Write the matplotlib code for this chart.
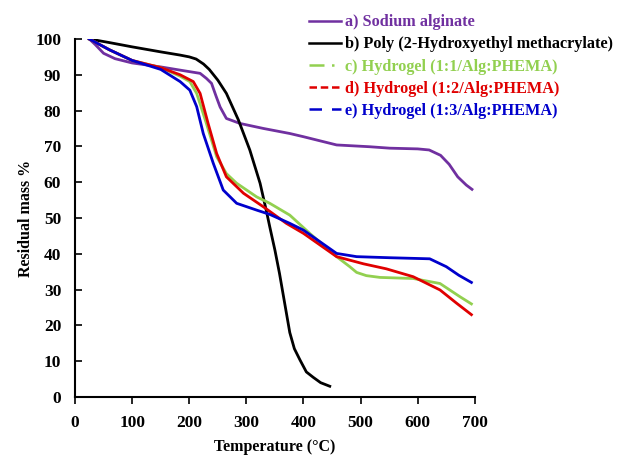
import matplotlib
matplotlib.use('Agg')
import matplotlib.pyplot as plt
from matplotlib.lines import Line2D

plt.rcParams['font.family'] = ['Liberation Serif', 'DejaVu Serif']
plt.rcParams['font.weight'] = 'bold'

# TGA curves
alg_x = [25, 35, 50, 70, 100, 150, 184, 219, 230, 239, 247, 254, 265, 289, 330, 376, 400, 458, 516, 551, 600, 620, 640, 655, 670, 685, 695]
alg_y = [100, 98.5, 96, 94.5, 93.3, 92.2, 91.3, 90.4, 89, 87.6, 84, 81, 77.8, 76.4, 75, 73.6, 72.7, 70.4, 69.9, 69.5, 69.3, 69, 67.5, 65, 61.5, 59.2, 58]

phema_x = [25, 60, 100, 150, 184, 200, 212, 225, 235, 250, 265, 286, 306, 324, 335, 341, 350, 358, 364, 370, 376, 384, 394, 405, 417, 430, 446]
phema_y = [100, 99, 97.8, 96.4, 95.5, 95, 94.4, 93, 91.5, 88.5, 84.8, 77.4, 69, 59.7, 52, 47.5, 41, 34.5, 29, 23.5, 18, 13.5, 10.3, 7, 5.5, 4, 3]

h11_x = [25, 60, 100, 150, 184, 201, 213, 230, 248, 265, 283, 318, 341, 376, 411, 458, 481, 493, 510, 534, 592, 639, 674, 694]
h11_y = [100, 97, 94, 92, 89.6, 88.1, 84.8, 76.4, 67.1, 62.4, 59.7, 55.9, 54.1, 50.8, 45.7, 39.2, 36.4, 34.8, 33.9, 33.4, 33.1, 31.7, 28, 26]

h12_x = [25, 60, 100, 150, 184, 207, 219, 233, 248, 265, 295, 330, 370, 400, 458, 505, 545, 592, 639, 668, 694]
h12_y = [100, 97, 94, 92, 90, 88.1, 84.8, 76.4, 68, 61.5, 56.9, 53.1, 48.5, 45.7, 39.2, 37.2, 35.8, 33.6, 29.9, 26.2, 23]

h13_x = [25, 60, 100, 150, 184, 201, 213, 224.5, 242, 259.5, 283, 318, 341, 376, 400, 458, 493, 551, 621, 650, 672, 694]
h13_y = [100, 97, 94, 91.5, 88.1, 85.7, 81.1, 73.6, 65.3, 57.8, 54.1, 52.2, 51, 48.5, 46.6, 40.1, 39.2, 38.9, 38.6, 36.4, 34, 32]

labels = ['a) Sodium alginate',
          'b) Poly (2-Hydroxyethyl methacrylate)',
          'c) Hydrogel (1:1/Alg:PHEMA)',
          'd) Hydrogel (1:2/Alg:PHEMA)',
          'e) Hydrogel (1:3/Alg:PHEMA)']
colors = ['#7030A0', '#000000', '#92D050', '#E00000', '#0000CC']
handle_styles = ['-', '-', (0, (6, 3, 1, 3)), (0, (3, 1.5)), (0, (5, 4))]

fig = plt.figure(figsize=(6.17, 4.57), dpi=100)
ax = fig.add_axes([0.1216, 0.1313, 0.648, 0.7834])

series = [(alg_x, alg_y), (phema_x, phema_y), (h11_x, h11_y), (h12_x, h12_y), (h13_x, h13_y)]
for (x, y), c in zip(series, colors):
    ax.plot(x, y, color=c, lw=2, solid_joinstyle='round')

ax.set_xlim(0, 700)
ax.set_ylim(0, 100)
ax.set_xticks(range(0, 701, 100))
ax.set_yticks(range(0, 101, 10))
ax.spines['top'].set_visible(False)
ax.spines['right'].set_visible(False)
ax.spines['left'].set_linewidth(1.5)
ax.spines['bottom'].set_linewidth(1.5)
ax.tick_params(axis='x', direction='out', length=5, width=1.2, labelsize=12.5, pad=8)
ax.tick_params(axis='y', direction='in', length=5, width=1.2, labelsize=12.5, pad=10)
for t in ax.get_xticklabels() + ax.get_yticklabels():
    t.set_fontweight('bold')

ax.set_xlabel('Temperature (°C)', fontsize=11.5, fontweight='bold', labelpad=6)
ax.set_ylabel('Residual mass %', fontsize=11.5, fontweight='bold', labelpad=1)

handles = [Line2D([0], [0], color=c, lw=1.8, ls=s) for c, s in zip(colors, handle_styles)]
leg = fig.legend(handles, labels, loc='upper left', bbox_to_anchor=(0.49, 0.983),
                 frameon=False, fontsize=11.7, handlelength=2.0, handletextpad=0.2,
                 labelspacing=0.38, borderaxespad=0)
for txt, c in zip(leg.get_texts(), colors):
    txt.set_color(c)
    txt.set_fontweight('bold')

fig.savefig('out.png', dpi=100)
